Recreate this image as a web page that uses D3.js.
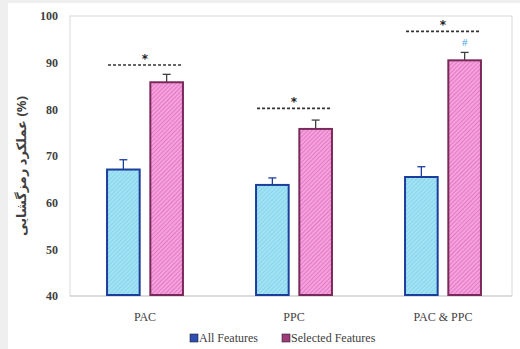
<!DOCTYPE html>
<html>
<head>
<meta charset="utf-8">
<script src="https://cdn.jsdelivr.net/npm/d3@7"></script>
<style>
  html, body { margin: 0; padding: 0; background: #efefef; }
  svg { display: block; }
  .serif { font-family: "Liberation Serif", "DejaVu Serif", serif; }
</style>
</head>
<body>
<svg id="chart" width="520" height="349"></svg>
<script>
// Decoding performance for each coupling feature set
const categories = ["PAC", "PPC", "PAC & PPC"];
const seriesNames = ["All Features", "Selected Features"];
const allFeatures = [67.1, 63.8, 65.5];
const allFeaturesErr = [2.1, 1.5, 2.2];
const selectedFeatures = [85.8, 75.8, 90.5];
const selectedFeaturesErr = [1.7, 1.9, 1.7];
const yTicks = [40, 50, 60, 70, 80, 90, 100];
// significance bracket heights (y value of the dashed line)
const sigLevels = [89.5, 80.2, 96.7];
const hashMarks = ["", "", "#"];

const SERIF = "'Liberation Serif', 'DejaVu Serif', serif";

const svg = d3.select("#chart");
const W = 520, H = 349;

// white panel
svg.append("rect").attr("x", 8).attr("y", 3).attr("width", W - 8).attr("height", H - 3).attr("fill", "#ffffff");

const plot = { left: 70, right: 512, top: 16, bottom: 296 };

const y = d3.scaleLinear().domain([40, 100]).range([plot.bottom, plot.top]);
const x0 = d3.scaleBand().domain(categories).range([70.5, 517.5]).paddingInner(0.477).paddingOuter(0.2385);
const x1 = d3.scaleBand().domain(seriesNames).range([0, x0.bandwidth()]).paddingInner(0.2);

// hatch patterns
const defs = svg.append("defs");
const pBlue = defs.append("pattern").attr("id", "hatchBlue").attr("patternUnits", "userSpaceOnUse")
  .attr("width", 3).attr("height", 3).attr("patternTransform", "rotate(45)");
pBlue.append("rect").attr("width", 3).attr("height", 3).attr("fill", "#9fe3f5");
pBlue.append("line").attr("x1", 0).attr("y1", 0).attr("x2", 0).attr("y2", 3)
  .attr("stroke", "#74bcd9").attr("stroke-width", 0.8);
const pPink = defs.append("pattern").attr("id", "hatchPink").attr("patternUnits", "userSpaceOnUse")
  .attr("width", 3).attr("height", 3).attr("patternTransform", "rotate(45)");
pPink.append("rect").attr("width", 3).attr("height", 3).attr("fill", "#f6a0df");
pPink.append("line").attr("x1", 0).attr("y1", 0).attr("x2", 0).attr("y2", 3)
  .attr("stroke", "#cc5aa3").attr("stroke-width", 1);

// plot frame
svg.append("rect").attr("x", plot.left).attr("y", plot.top)
  .attr("width", plot.right - plot.left).attr("height", plot.bottom - plot.top)
  .attr("fill", "none").attr("stroke", "#d9d9d9").attr("stroke-width", 1);

// y axis labels
const yAxis = d3.axisLeft(y).tickValues(yTicks).tickSize(0).tickPadding(12);
const yG = svg.append("g").attr("transform", `translate(${plot.left},0)`).call(yAxis)
  .attr("font-family", SERIF);
yG.select(".domain").remove();
yG.selectAll("text").style("font-family", SERIF).attr("font-weight", "bold")
  .attr("font-size", 12).attr("fill", "#404040");

// x axis
const xAxis = d3.axisBottom(x0).tickSize(0).tickPadding(16);
const xG = svg.append("g").attr("transform", `translate(0,${plot.bottom})`).call(xAxis)
  .attr("font-family", SERIF);
xG.select(".domain").attr("stroke", "#cccccc").attr("d", `M${plot.left},0H${plot.right}`);
xG.selectAll("text").style("font-family", SERIF).attr("font-size", 12).attr("fill", "#404040");

// y axis title
svg.append("text")
  .attr("transform", `translate(26,${(plot.top + plot.bottom) / 2 + 10}) rotate(-90)`)
  .attr("text-anchor", "middle")
  .style("font-family", "'Noto Sans', 'DejaVu Sans', sans-serif")
  .attr("font-size", 13).attr("font-weight", "bold").attr("fill", "#404040")
  .text("عملکرد رمزگشایی (%)");

const rows = categories.map((c, i) => ({
  cat: c,
  bars: [
    { s: seriesNames[0], v: allFeatures[i], e: allFeaturesErr[i], fill: "url(#hatchBlue)", stroke: "#1b3d9c", ebar: "#1b3d9c" },
    { s: seriesNames[1], v: selectedFeatures[i], e: selectedFeaturesErr[i], fill: "url(#hatchPink)", stroke: "#7a2a5a", ebar: "#404040" }
  ],
  sig: sigLevels[i],
  hash: hashMarks[i]
}));

const groups = svg.selectAll("g.cat").data(rows).join("g").attr("class", "cat")
  .attr("transform", d => `translate(${x0(d.cat)},0)`);

// error bars (upper whisker only)
groups.each(function (d) {
  const g = d3.select(this);
  d.bars.forEach(b => {
    const cx = x1(b.s) + x1.bandwidth() / 2;
    g.append("line").attr("x1", cx).attr("x2", cx).attr("y1", y(b.v)).attr("y2", y(b.v + b.e))
      .attr("stroke", b.ebar).attr("stroke-width", 1.3);
    g.append("line").attr("x1", cx - 4).attr("x2", cx + 4).attr("y1", y(b.v + b.e)).attr("y2", y(b.v + b.e))
      .attr("stroke", b.ebar).attr("stroke-width", 1.3);
  });
});

groups.selectAll("rect.bar").data(d => d.bars).join("rect").attr("class", "bar")
  .attr("x", b => x1(b.s) + 1)
  .attr("width", x1.bandwidth() - 2)
  .attr("y", b => y(b.v))
  .attr("height", b => y(40) - y(b.v) - 1)
  .attr("fill", b => b.fill)
  .attr("stroke", b => b.stroke)
  .attr("stroke-width", 2);

// significance markers
groups.append("line")
  .attr("x1", 2).attr("x2", x0.bandwidth() - 2)
  .attr("y1", d => y(d.sig)).attr("y2", d => y(d.sig))
  .attr("stroke", "#333").attr("stroke-width", 1.6).attr("stroke-dasharray", "3,2");
groups.append("text")
  .attr("x", x0.bandwidth() / 2).attr("y", d => y(d.sig) - 2)
  .attr("text-anchor", "middle")
  .style("font-family", "'DejaVu Sans', sans-serif").attr("font-weight", "bold").attr("font-size", 12).attr("fill", "#222")
  .text("*");
groups.filter(d => d.hash).append("text")
  .attr("x", x1(seriesNames[1]) + x1.bandwidth() / 2)
  .attr("y", d => y(d.bars[1].v + d.bars[1].e) - 6)
  .attr("text-anchor", "middle")
  .style("font-family", SERIF).attr("font-size", 11).attr("fill", "#4aa3e0")
  .text(d => d.hash);

// legend
const legend = svg.append("g").attr("transform", "translate(190,338)");
const legendItems = [
  { name: seriesNames[0], fill: "#2e4fb0", x: 0 },
  { name: seriesNames[1], fill: "#a03b7a", x: 92 }
];
legendItems.forEach(it => {
  const g = legend.append("g").attr("transform", `translate(${it.x},0)`);
  g.append("rect").attr("x", 0).attr("y", -4).attr("width", 8).attr("height", 8)
    .attr("fill", it.fill).attr("stroke", "#223").attr("stroke-width", 0.6);
  g.append("text").attr("x", 9).attr("y", 4)
    .style("font-family", SERIF).attr("font-size", 12).attr("fill", "#404040")
    .text(it.name);
});
</script>
</body>
</html>
